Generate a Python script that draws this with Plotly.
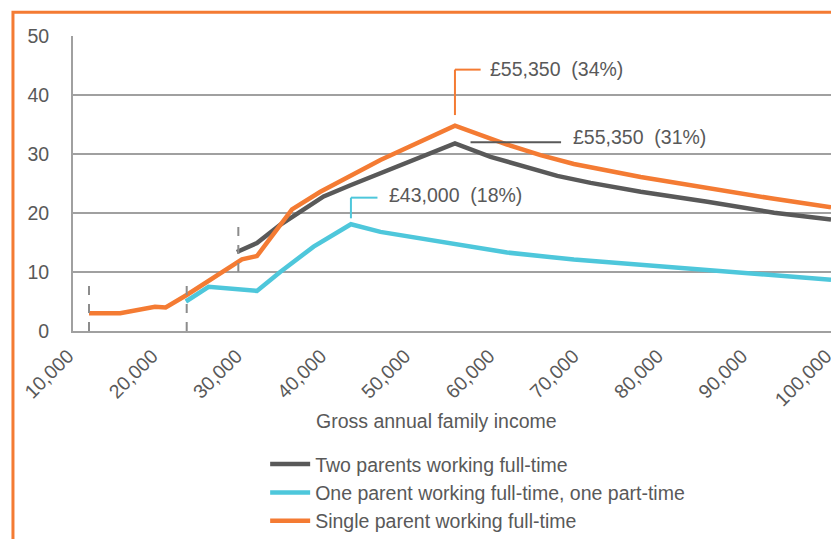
import plotly.graph_objects as go

# ---------------- data ----------------
two_x = [29460, 31840, 34600, 37000, 39760, 42940, 46500, 55350, 59580, 63540, 67500, 71460, 77400, 85320, 93240, 100000]
two_y = [13.4, 14.9, 18.0, 20.2, 22.8, 24.7, 26.7, 31.8, 29.5, 27.85, 26.3, 25.1, 23.6, 21.9, 20.05, 18.9]

one_x = [23400, 26100, 31840, 34600, 38570, 43000, 46500, 53640, 61540, 69470, 77400, 85320, 93240, 100000]
one_y = [5.0, 7.5, 6.8, 10.0, 14.3, 18.1, 16.8, 15.1, 13.3, 12.1, 11.2, 10.3, 9.5, 8.7]

single_x = [11900, 15600, 19740, 21000, 23500, 30060, 31840, 36000, 39370, 42940, 46500, 55350, 61540, 65510, 69470, 77400, 85320, 93240, 100000]
single_y = [3.0, 3.0, 4.1, 4.0, 6.1, 12.15, 12.7, 20.6, 23.6, 26.4, 29.0, 34.8, 31.6, 29.8, 28.3, 26.1, 24.2, 22.4, 20.95]

series_names = ["Two parents working full-time",
                "One parent working full-time, one part-time",
                "Single parent working full-time"]
series_colors = ["#595959", "#4EC7DB", "#F47B33"]

x_ticks = [10000, 20000, 30000, 40000, 50000, 60000, 70000, 80000, 90000, 100000]
x_tick_labels = ["10,000", "20,000", "30,000", "40,000", "50,000", "60,000", "70,000", "80,000", "90,000", "100,000"]
y_ticks = [0, 10, 20, 30, 40, 50]

# dashed markers: (x, y_from, y_to)
dash_x = [11900, 23500, 29630]
dash_y0 = [0, 0, 10.0]
dash_y1 = [8.4, 8.4, 18.4]

# peak labels
peak_labels = ["£55,350  (34%)", "£55,350  (31%)", "£43,000  (18%)"]

TXT = "#595959"
GRID = "#A0A0A0"
FONT = "Liberation Sans, Arial, sans-serif"
FS = 19.5

fig = go.Figure()
for xs, ys, name, col in zip([two_x, one_x, single_x], [two_y, one_y, single_y], series_names, series_colors):
    fig.add_trace(go.Scatter(x=xs, y=ys, mode="lines", name=name,
                             line=dict(color=col, width=4.5)))

shapes = []
for dx, a, b in zip(dash_x, dash_y0, dash_y1):
    shapes.append(dict(type="line", xref="x", yref="y", x0=dx, x1=dx, y0=a, y1=b,
                       line=dict(color="#8C8C8C", width=2, dash="dash")))

# leader lines
shapes.append(dict(type="line", xref="x", yref="y", x0=55350, x1=55350, y0=36.6, y1=44.3,
                   line=dict(color=series_colors[2], width=2)))
shapes.append(dict(type="line", xref="x", yref="y", x0=55350, x1=58400, y0=44.3, y1=44.3,
                   line=dict(color=series_colors[2], width=2)))
shapes.append(dict(type="line", xref="x", yref="y", x0=57200, x1=67950, y0=32.0, y1=32.0,
                   line=dict(color=series_colors[0], width=2)))
shapes.append(dict(type="line", xref="x", yref="y", x0=43000, x1=43000, y0=19.1, y1=22.6,
                   line=dict(color=series_colors[1], width=2)))
shapes.append(dict(type="line", xref="x", yref="y", x0=43000, x1=46150, y0=22.6, y1=22.6,
                   line=dict(color=series_colors[1], width=2)))

# orange outer border
shapes.append(dict(type="rect", xref="paper", yref="paper", x0=-0.0792, x1=1.2, y0=-1.5, y1=1.0803,
                   line=dict(color="#F47B33", width=3), fillcolor="rgba(0,0,0,0)"))

annotations = [
    dict(x=59300, y=44.4, xref="x", yref="y", text=peak_labels[0], showarrow=False,
         xanchor="left", yanchor="middle", font=dict(size=FS, color=TXT, family=FONT)),
    dict(x=69100, y=32.8, xref="x", yref="y", text=peak_labels[1], showarrow=False,
         xanchor="left", yanchor="middle", font=dict(size=FS, color=TXT, family=FONT)),
    dict(x=47300, y=23.0, xref="x", yref="y", text=peak_labels[2], showarrow=False,
         xanchor="left", yanchor="middle", font=dict(size=FS, color=TXT, family=FONT)),
    dict(x=0.48, y=-0.305, xref="paper", yref="paper", text="Gross annual family income",
         showarrow=False, xanchor="center", yanchor="middle",
         font=dict(size=FS, color=TXT, family=FONT)),
]

fig.update_layout(
    width=839, height=539,
    margin=dict(l=65, r=16, t=28, b=216, autoexpand=False),
    paper_bgcolor="white", plot_bgcolor="white",
    font=dict(family=FONT, size=FS, color=TXT),
    shapes=shapes, annotations=annotations,
    showlegend=True,
    legend=dict(x=0.2535, y=-0.386, xanchor="left", yanchor="top",
                font=dict(size=FS, color=TXT), bgcolor="rgba(0,0,0,0)",
                itemwidth=40, tracegroupgap=0),
)
fig.update_xaxes(range=[10000, 100000], tickvals=x_ticks, ticktext=x_tick_labels,
                 tickangle=-45, showgrid=False, zeroline=False, automargin=False,
                 showline=True, linecolor=GRID, linewidth=2, ticks="",
                 ticklabelstandoff=4, ticklabelshift=-5, ticklabeloverflow="allow",
                 tickfont=dict(size=FS, color=TXT))
fig.update_yaxes(range=[0, 50], tickvals=y_ticks, showgrid=True, gridcolor=GRID, gridwidth=2,
                 zeroline=False, showline=True, linecolor=GRID, linewidth=2, ticks="",
                 automargin=False, ticklabelstandoff=18, tickfont=dict(size=FS, color=TXT))

fig.write_html("out.html")
